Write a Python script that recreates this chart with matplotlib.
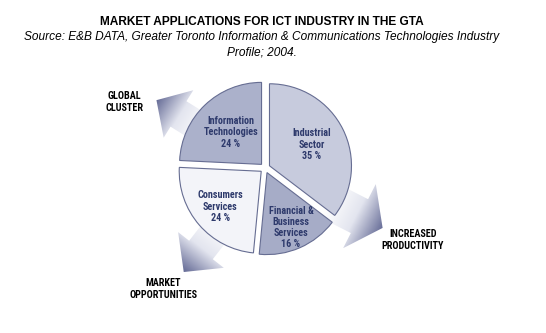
import numpy as np
import matplotlib.pyplot as plt
from matplotlib.patches import Polygon
from matplotlib.colors import LinearSegmentedColormap

# donnees
secteurs = ['Industrial\nSector', 'Financial &\nBusiness\nServices', 'Consumers\nServices', 'Information\nTechnologies']
parts = [35, 16, 24, 24]
couleurs = ['#c7cbdd', '#a6acc7', '#f3f4f9', '#abb1cb']
pos_label = [0.64, 0.79, 0.72, 0.60]   # distance du label / rayon

fleches = ['GLOBAL\nCLUSTER', 'INCREASED\nPRODUCTIVITY', 'MARKET\nOPPORTUNITIES']
angles_fleche = [148, -27, -128]

W, H = 546, 333
fig = plt.figure(figsize=(W / 100, H / 100), dpi=100)
ax = fig.add_axes([0, 0, 1, 1])

cx, cy, R = 265, H - 168, 82
narrow = ['Liberation Sans Narrow', 'Roboto Condensed', 'Open Sans Condensed', 'Liberation Sans']

# fleches en degrade (dessinees sous le camembert)
cmap = LinearSegmentedColormap.from_list('fl', ['#ffffff', '#e3e5ef', '#656b96'])


def fleche(angle, r0, r1, shaft, head, head_len):
    a = np.radians(angle)
    d = np.array([np.cos(a), np.sin(a)])
    n = np.array([-d[1], d[0]])
    c = np.array([cx, cy])
    p0 = c + r0 * d
    tip = c + r1 * d
    pb = tip - head_len * d
    pts = [p0 + n * shaft / 2, pb + n * shaft / 2, pb + n * head / 2, tip,
           pb - n * head / 2, pb - n * shaft / 2, p0 - n * shaft / 2]
    poly = Polygon(pts, closed=True, facecolor='none', edgecolor='none')
    ax.add_patch(poly)
    pts = np.array(pts)
    x0, x1 = pts[:, 0].min(), pts[:, 0].max()
    y0, y1 = pts[:, 1].min(), pts[:, 1].max()
    xx, yy = np.meshgrid(np.linspace(x0, x1, 120), np.linspace(y0, y1, 120))
    t = ((xx - p0[0]) * d[0] + (yy - p0[1]) * d[1]) / (r1 - r0)
    im = ax.imshow(np.clip(t, 0, 1), extent=[x0, x1, y0, y1], origin='lower',
                   cmap=cmap, vmin=0, vmax=1, zorder=1, interpolation='bilinear')
    im.set_clip_path(poly)


fleche(angles_fleche[0], 72, 128, 30, 56, 26)
fleche(angles_fleche[1], 72, 132, 38, 72, 26)
fleche(angles_fleche[2], 72, 132, 30, 58, 28)

# camembert
wedges, _ = ax.pie(parts, colors=couleurs, startangle=90, counterclock=False,
                   center=(cx, cy), radius=R, explode=[5] * 4,
                   wedgeprops=dict(edgecolor='#666d92', linewidth=0.8, zorder=2))

for w, nom, p, f in zip(wedges, secteurs, parts, pos_label):
    m = np.radians((w.theta1 + w.theta2) / 2)
    ax.text(cx + f * R * np.cos(m), cy + f * R * np.sin(m), f"{nom}\n{p} %",
            ha='center', va='center', fontsize=7.3, fontweight='bold',
            color='#2e3a6c', family=narrow, linespacing=1.15, zorder=3)

# etiquettes des fleches
pos_fl = [(124, 102), (413, 240), (163, 289)]
for txt, (x, y) in zip(fleches, pos_fl):
    ax.text(x, H - y, txt, ha='center', va='center', fontsize=7.3,
            fontweight='bold', family=narrow, linespacing=1.15, zorder=3)

# titre
ax.text(262, H - 22, 'MARKET APPLICATIONS FOR ICT INDUSTRY IN THE GTA',
        ha='center', va='center', fontsize=8.6, fontweight='bold',
        family='Liberation Sans')
ax.text(262, H - 44.5, 'Source: E&B DATA, Greater Toronto Information & Communications Technologies Industry\nProfile; 2004.',
        ha='center', va='center', fontsize=8.6, style='italic',
        family='Liberation Sans', linespacing=1.35)

ax.set_xlim(0, W)
ax.set_ylim(0, H)
ax.set_aspect('equal')
ax.axis('off')

plt.savefig('out.png', dpi=100)
